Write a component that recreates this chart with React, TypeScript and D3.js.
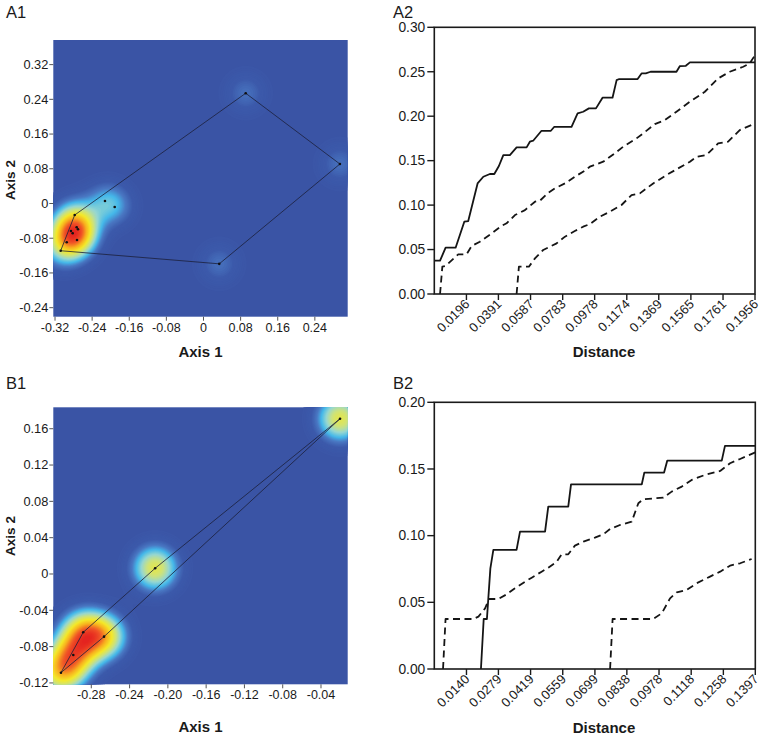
import React, { useMemo } from 'react';
import * as d3 from 'd3';

// ---------- Data ----------
// A1 ordination points (Axis 1, Axis 2)
const A1_AXIS1 = [0.091, 0.294, 0.034, -0.3078, -0.2776, -0.2123, -0.1914, -0.2856, -0.2819, -0.2733, -0.2705, -0.2726, -0.2948];
const A1_AXIS2 = [0.254, 0.091, -0.139, -0.1088, -0.0265, 0.0058, -0.008, -0.0634, -0.0687, -0.0548, -0.0594, -0.0841, -0.0894];
const A1_XTICKS = [-0.32, -0.24, -0.16, -0.08, 0, 0.08, 0.16, 0.24];
const A1_YTICKS = [0.32, 0.24, 0.16, 0.08, 0, -0.08, -0.16, -0.24];

// B1 ordination points
const B1_AXIS1 = [-0.0201, -0.2133, -0.2884, -0.2667, -0.2988, -0.3117];
const B1_AXIS2 = [0.171, 0.0063, -0.0642, -0.069, -0.0892, -0.1087];
const B1_XTICKS = [-0.28, -0.24, -0.2, -0.16, -0.12, -0.08, -0.04];
const B1_YTICKS = [0.16, 0.12, 0.08, 0.04, 0, -0.04, -0.08, -0.12];

// A2 curves (Distance, value)
const A2_SOLID_D = [0, 0.0035, 0.0069, 0.013, 0.0183, 0.0207, 0.0264, 0.0299, 0.0339, 0.0366, 0.0394, 0.0421, 0.0461, 0.0502, 0.0563, 0.0583, 0.0603, 0.0654, 0.0711, 0.0732, 0.0837, 0.0874, 0.0908, 0.0943, 0.0986, 0.1026, 0.1087, 0.1112, 0.1128, 0.124, 0.1264, 0.129, 0.1319, 0.1477, 0.1498, 0.1534, 0.1559, 0.1956];
const A2_SOLID_V = [0.0375, 0.0375, 0.0521, 0.0521, 0.0813, 0.0821, 0.1244, 0.1319, 0.135, 0.135, 0.144, 0.1563, 0.1563, 0.1649, 0.1649, 0.1713, 0.1724, 0.1836, 0.1836, 0.1881, 0.1881, 0.2031, 0.205, 0.2088, 0.2088, 0.2208, 0.2208, 0.2406, 0.2418, 0.2418, 0.2481, 0.2481, 0.25, 0.25, 0.2564, 0.2567, 0.2605, 0.2605];
const A2_UPPER_D = [0.0035, 0.0049, 0.0069, 0.0146, 0.0197, 0.0228, 0.0278, 0.035, 0.041, 0.0441, 0.0492, 0.0553, 0.0614, 0.0644, 0.0695, 0.0736, 0.0797, 0.0857, 0.0918, 0.0949, 0.103, 0.1101, 0.1152, 0.1233, 0.1274, 0.1345, 0.1406, 0.1477, 0.1559, 0.165, 0.1731, 0.1802, 0.1884, 0.1924, 0.1956];
const A2_UPPER_V = [0, 0.0307, 0.0315, 0.0446, 0.0446, 0.054, 0.0588, 0.0682, 0.0765, 0.0795, 0.0888, 0.0944, 0.1038, 0.1049, 0.1139, 0.1188, 0.1244, 0.1319, 0.1387, 0.1432, 0.1488, 0.1582, 0.1657, 0.175, 0.1807, 0.1911, 0.1956, 0.205, 0.2163, 0.2275, 0.2425, 0.25, 0.2556, 0.2594, 0.2687];
const A2_LOWER_D = [0.0502, 0.0516, 0.0577, 0.0614, 0.0664, 0.0705, 0.0746, 0.0797, 0.0857, 0.0908, 0.0949, 0.101, 0.1071, 0.1142, 0.1203, 0.1254, 0.1335, 0.1416, 0.1487, 0.1559, 0.1599, 0.166, 0.1731, 0.1792, 0.1863, 0.1956];
const A2_LOWER_V = [0, 0.0307, 0.0307, 0.0401, 0.0495, 0.0532, 0.057, 0.0645, 0.0708, 0.0757, 0.0787, 0.087, 0.0926, 0.1001, 0.1113, 0.1132, 0.1244, 0.1338, 0.1413, 0.1488, 0.1544, 0.1563, 0.1694, 0.1713, 0.1844, 0.1919];
const A2_XTICKS = [0.0196, 0.0391, 0.0587, 0.0783, 0.0978, 0.1174, 0.1369, 0.1565, 0.1761, 0.1956];
const A2_YTICKS = [0, 0.05, 0.1, 0.15, 0.2, 0.25, 0.3];

// B2 curves
const B2_SOLID_D = [0.0203, 0.0215, 0.0229, 0.0244, 0.0257, 0.0358, 0.0373, 0.0482, 0.0496, 0.0583, 0.0595, 0.0903, 0.0914, 0.1, 0.1014, 0.1251, 0.1265, 0.1397];
const B2_SOLID_V = [0, 0.0375, 0.0375, 0.0755, 0.0893, 0.0893, 0.103, 0.103, 0.1218, 0.1218, 0.1385, 0.1385, 0.1473, 0.1473, 0.1563, 0.1563, 0.1673, 0.1673];
const B2_UPPER_D = [0.0038, 0.0049, 0.017, 0.0192, 0.0221, 0.0238, 0.0279, 0.0315, 0.0351, 0.0395, 0.0424, 0.0467, 0.0496, 0.0533, 0.0554, 0.0583, 0.0612, 0.0649, 0.0699, 0.0736, 0.0765, 0.0808, 0.0859, 0.0888, 0.091, 0.0997, 0.1033, 0.1077, 0.112, 0.1185, 0.1244, 0.1287, 0.1331, 0.1397];
const B2_UPPER_V = [0, 0.0375, 0.0375, 0.0393, 0.0455, 0.0525, 0.0525, 0.056, 0.0605, 0.0655, 0.0685, 0.073, 0.076, 0.0805, 0.086, 0.086, 0.0925, 0.0955, 0.0985, 0.101, 0.105, 0.108, 0.1105, 0.1243, 0.1273, 0.1285, 0.133, 0.1368, 0.1418, 0.146, 0.1485, 0.1543, 0.1575, 0.1625];
const B2_LOWER_D = [0.0765, 0.0776, 0.0953, 0.099, 0.1026, 0.1055, 0.1098, 0.1142, 0.12, 0.1244, 0.1287, 0.1331, 0.1381];
const B2_LOWER_V = [0, 0.0375, 0.0375, 0.0418, 0.053, 0.0575, 0.0593, 0.0643, 0.0693, 0.073, 0.0775, 0.0793, 0.0825];
const B2_XTICKS = [0.014, 0.0279, 0.0419, 0.0559, 0.0699, 0.0838, 0.0978, 0.1118, 0.1258, 0.1397];
const B2_YTICKS = [0, 0.05, 0.1, 0.15, 0.2];

// ---------- Styles ----------
const FONT = '"Liberation Sans", Arial, Helvetica, sans-serif';
const HEAT_T = [0, 0.1, 0.18, 0.26, 0.36, 0.46, 0.58, 0.72, 0.86, 1];
const HEAT_C = ['#3a54a5', '#3c5aab', '#4a78c3', '#45b8ea', '#97d7d0', '#cde27c', '#f4e92a', '#f8b120', '#f05628', '#e3201f'];
const heatColor = d3.scaleLinear<string>().domain(HEAT_T).range(HEAT_C).interpolate(d3.interpolateRgb).clamp(true);

const fmtAxis = (v: number) => (Math.abs(v) < 1e-9 ? '0' : v.toFixed(2));

type HeatProps = {
  x0: number; y0: number; w: number; h: number;
  xd: [number, number]; yd: [number, number];
  ax1: number[]; ax2: number[]; sigma: number;
  xticks: number[]; yticks: number[];
  xTitleY: number; yTitleY: number;
};

function HeatPanel(p: HeatProps) {
  const { x0, y0, w, h, xd, yd, ax1, ax2, sigma, xticks, yticks, xTitleY, yTitleY } = p;
  const xs = d3.scaleLinear().domain(xd).range([0, w]);
  const ys = d3.scaleLinear().domain(yd).range([h, 0]);
  const pts = ax1.map((v, i) => [xs(v), ys(ax2[i])] as [number, number]);

  const { contours, max } = useMemo(() => {
    const W = Math.round(w), H = Math.round(h);
    const vals = new Array(W * H);
    const s2 = 2 * sigma * sigma;
    let mx = 0;
    for (let j = 0; j < H; j++) {
      for (let i = 0; i < W; i++) {
        let s = 0;
        for (const q of pts) {
          const dx = i + 0.5 - q[0], dy = j + 0.5 - q[1];
          s += Math.exp(-(dx * dx + dy * dy) / s2);
        }
        vals[j * W + i] = s;
        if (s > mx) mx = s;
      }
    }
    const th = d3.range(0.03, 1.0, 0.01).map((t) => t * mx);
    const cs = d3.contours().size([W, H]).thresholds(th)(vals);
    return { contours: cs, max: mx };
  }, []);

  const geo = d3.geoPath();
  const hull = d3.polygonHull(pts) || [];
  const hullPath = 'M' + hull.map((q) => q.join(',')).join('L') + 'Z';

  return (
    <g>
      <g transform={`translate(${x0},${y0})`}>
        <rect x={0} y={0} width={w} height={h} fill={HEAT_C[0]} />
        {contours.map((c, i) => (
          <path key={i} d={geo(c as any) || ''} fill={heatColor(c.value / max)} stroke="none" />
        ))}
        <path d={hullPath} fill="none" stroke="#1c1f3a" strokeWidth={0.8} />
        {pts.map((q, i) => (
          <circle key={i} cx={q[0]} cy={q[1]} r={1.3} fill="#111" />
        ))}
      </g>
      {xticks.map((t) => (
        <g key={'x' + t}>
          <line x1={x0 + xs(t)} x2={x0 + xs(t)} y1={y0 + h} y2={y0 + h + 4} stroke="#555" strokeWidth={1} />
          <text x={x0 + xs(t)} y={y0 + h + 15} textAnchor="middle" fontSize={12.5} fill="#1a1a1a" fontFamily={FONT}>
            {fmtAxis(t)}
          </text>
        </g>
      ))}
      {yticks.map((t) => (
        <g key={'y' + t}>
          <line x1={x0 - 4} x2={x0} y1={y0 + ys(t)} y2={y0 + ys(t)} stroke="#555" strokeWidth={1} />
          <text x={x0 - 5} y={y0 + ys(t) + 4.4} textAnchor="end" fontSize={12.8} fill="#1a1a1a" fontFamily={FONT}>
            {fmtAxis(t)}
          </text>
        </g>
      ))}
      <text x={x0 + w / 2} y={xTitleY} textAnchor="middle" fontSize={15} fontWeight="bold" fill="#1a1a1a" fontFamily={FONT}>
        Axis 1
      </text>
      <text transform={`translate(15,${yTitleY}) rotate(-90)`} textAnchor="middle" fontSize={13.5} fontWeight="bold" fill="#1a1a1a" fontFamily={FONT}>
        Axis 2
      </text>
    </g>
  );
}

type LineProps = {
  x0: number; y0: number; w: number; h: number;
  xmax: number; ymax: number;
  curves: { d: number[]; v: number[]; dashed: boolean }[];
  xticks: number[]; yticks: number[];
  titleY: number;
};

function LinePanel(p: LineProps) {
  const { x0, y0, w, h, xmax, ymax, curves, xticks, yticks, titleY } = p;
  const xs = d3.scaleLinear().domain([0, xmax]).range([x0, x0 + w]);
  const ys = d3.scaleLinear().domain([0, ymax]).range([y0 + h, y0]);
  const line = d3.line<[number, number]>().x((q) => xs(q[0])).y((q) => ys(q[1]));
  return (
    <g>
      {curves.map((c, i) => (
        <path
          key={i}
          d={line(c.d.map((dv, k) => [dv, c.v[k]] as [number, number])) || ''}
          fill="none"
          stroke="#151515"
          strokeWidth={1.8}
          strokeDasharray={c.dashed ? '7,4.5' : undefined}
          strokeLinejoin="round"
        />
      ))}
      <rect x={x0} y={y0} width={w} height={h} fill="none" stroke="#1a1a1a" strokeWidth={1.6} />
      {yticks.map((t) => (
        <g key={'y' + t}>
          <line x1={x0 - 7} x2={x0} y1={ys(t)} y2={ys(t)} stroke="#1a1a1a" strokeWidth={1.4} />
          <text x={x0 - 9} y={ys(t) + 4.8} textAnchor="end" fontSize={13.8} fill="#1a1a1a" fontFamily={FONT}>
            {t.toFixed(2)}
          </text>
        </g>
      ))}
      {xticks.map((t) => (
        <g key={'x' + t}>
          <line x1={xs(t)} x2={xs(t)} y1={y0 + h} y2={y0 + h + 6} stroke="#1a1a1a" strokeWidth={1.4} />
          <text
            transform={`translate(${xs(t) + 4},${y0 + h + 11}) rotate(-45)`}
            textAnchor="end"
            fontSize={13}
            fill="#1a1a1a"
            fontFamily={FONT}
          >
            {t.toFixed(4)}
          </text>
        </g>
      ))}
      <text x={604} y={titleY} textAnchor="middle" fontSize={15} fontWeight="bold" fill="#1a1a1a" fontFamily={FONT}>
        Distance
      </text>
    </g>
  );
}

export default function App() {
  return (
    <svg width={763} height={738} style={{ position: 'absolute', left: 0, top: 0, background: '#fff' }} fontFamily={FONT}>
      <rect x={0} y={0} width={763} height={738} fill="#fff" />
      <text x={6} y={18.3} fontSize={16.5} fill="#1a1a1a">A1</text>
      <text x={393} y={18.3} fontSize={16.5} fill="#1a1a1a">A2</text>
      <text x={6} y={388.5} fontSize={16.5} fill="#1a1a1a">B1</text>
      <text x={393} y={388.5} fontSize={16.5} fill="#1a1a1a">B2</text>

      <HeatPanel
        x0={53.3} y0={40} w={294.4} h={276.7}
        xd={[-0.3237, 0.3108]} yd={[-0.2608, 0.3767]}
        ax1={A1_AXIS1} ax2={A1_AXIS2} sigma={15}
        xticks={A1_XTICKS} yticks={A1_YTICKS}
        xTitleY={357} yTitleY={180}
      />
      <HeatPanel
        x0={53.3} y0={407.3} w={294.4} h={277}
        xd={[-0.3197, -0.0121]} yd={[-0.1215, 0.1836]}
        ax1={B1_AXIS1} ax2={B1_AXIS2} sigma={16}
        xticks={B1_XTICKS} yticks={B1_YTICKS}
        xTitleY={731.5} yTitleY={536}
      />
      <LinePanel
        x0={434.3} y0={27.3} w={320.7} h={266.7}
        xmax={0.1956} ymax={0.3}
        curves={[
          { d: A2_SOLID_D, v: A2_SOLID_V, dashed: false },
          { d: A2_UPPER_D, v: A2_UPPER_V, dashed: true },
          { d: A2_LOWER_D, v: A2_LOWER_V, dashed: true },
        ]}
        xticks={A2_XTICKS} yticks={A2_YTICKS}
        titleY={357}
      />
      <LinePanel
        x0={434.3} y0={402.3} w={321} h={266.7}
        xmax={0.1397} ymax={0.2}
        curves={[
          { d: B2_SOLID_D, v: B2_SOLID_V, dashed: false },
          { d: B2_UPPER_D, v: B2_UPPER_V, dashed: true },
          { d: B2_LOWER_D, v: B2_LOWER_V, dashed: true },
        ]}
        xticks={B2_XTICKS} yticks={B2_YTICKS}
        titleY={733}
      />
    </svg>
  );
}
